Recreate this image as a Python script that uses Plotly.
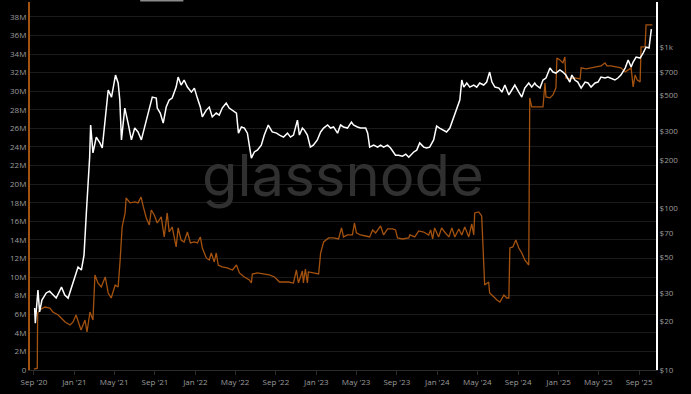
import numpy as np
import pandas as pd
import plotly.graph_objects as go

START = pd.Timestamp("2020-09-01")

# Price (right, log axis) - day offsets from 2020-09-01 and USD values
white_day = [2,4,12,17,24,37,47,57,67,83,
             93,103,113,123,133,143,151,158,163,168,
             171,178,188,199,206,214,224,234,246,254,
             259,264,274,284,294,304,314,324,335,345,
             357,369,372,381,390,399,408,417,429,435,
             444,453,463,475,484,493,502,508,520,529,
             538,550,559,568,580,589,599,611,617,626,
             635,644,656,665,674,686,695,707,719,732,
             741,753,765,774,783,789,795,801,810,816,
             825,834,843,855,865,874,886,895,904,916,
             925,934,946,958,964,976,985,1001,1007,1013,
             1025,1037,1046,1055,1067,1076,1085,1091,1100,1112,
             1122,1131,1146,1155,1164,1176,1185,1194,1206,1215,
             1224,1236,1245,1255,1267,1276,1285,1291,1297,1306,
             1315,1327,1336,1345,1357,1366,1375,1382,1391,1403,
             1412,1421,1433,1442,1451,1463,1472,1481,1493,1502,
             1511,1515,1527,1536,1545,1557,1566,1575,1587,1596,
             1605,1617,1623,1632,1641,1651,1663,1672,1681,1693,
             1702,1711,1723,1732,1741,1753,1762,1771,1784,1793,
             1802,1808,1817,1829,1838,1847,1856,1859,1863]
white_price = [24.2,19.5,31.3,22.9,27.1,30.0,30.8,29.1,27.9,32.6,
               29.1,27.9,32.6,37.7,43.4,41.6,51.5,93.8,134,208,
               329,221,277,255,237,353,542,490,671,599,
               470,266,419,338,266,315,298,266,329,390,
               490,483,419,390,338,425,470,483,565,652,
               582,625,565,526,557,483,425,369,407,425,
               369,390,379,419,450,419,407,390,293,320,
               315,293,205,224,230,247,285,329,298,293,
               285,277,293,277,285,315,353,285,315,306,
               285,240,247,266,298,315,329,315,320,293,
               329,320,315,343,329,320,315,315,293,240,
               247,240,247,240,247,237,221,214,214,211,
               217,208,224,230,255,240,237,240,266,324,
               315,306,298,315,369,407,470,625,565,599,
               565,582,565,599,582,607,700,607,565,557,
               526,582,505,542,582,526,490,557,599,565,
               599,582,557,625,643,741,700,690,721,700,
               671,607,671,625,607,557,607,599,565,599,
               607,652,643,652,643,625,643,671,741,831,
               752,807,867,855,918,1000,986,1153,1292]

# Metric (left axis, millions) - day offsets and values
orange_day = [0,10,11,17,33,48,57,73,82,94,
              109,118,127,136,142,154,160,169,178,184,
              193,203,215,224,233,245,254,260,266,275,
              278,290,305,314,323,330,339,348,354,363,
              372,384,393,402,408,417,429,435,444,453,
              463,472,484,493,502,508,520,529,535,544,
              550,556,568,583,599,611,620,635,650,656,
              659,674,695,710,726,741,753,768,783,792,
              798,810,813,819,825,828,843,859,865,874,
              889,904,919,928,934,946,961,967,973,985,
              1001,1013,1022,1031,1046,1055,1067,1082,1091,1097,
              1112,1131,1134,1149,1161,1176,1191,1197,1203,1209,
              1221,1230,1239,1252,1261,1270,1282,1291,1300,1312,
              1321,1327,1330,1342,1351,1357,1360,1372,1375,1388,
              1397,1406,1418,1427,1433,1436,1445,1454,1463,1472,
              1481,1493,1496,1502,1527,1536,1542,1545,1557,1566,
              1575,1578,1587,1596,1602,1605,1617,1632,1648,1651,
              1666,1681,1696,1711,1723,1729,1741,1756,1771,1784,
              1793,1802,1808,1814,1820,1829,1832,1844,1847,1866]
orange_m = [0.1,0.2,6.1,6.46,6.78,6.67,6.24,5.92,5.60,5.17,
            4.84,5.17,5.92,4.84,4.31,5.38,4.09,6.24,5.38,10.23,
            9.36,8.93,10.01,8.29,7.75,9.15,8.93,11.84,15.39,16.90,
            18.51,17.98,18.08,17.98,18.62,17.55,16.36,15.61,17.22,16.68,
            15.82,16.47,14.32,16.90,14.85,15.39,13.24,15.29,13.99,13.78,
            14.85,13.67,13.78,13.67,14.32,13.13,12.06,11.84,12.59,11.63,
            12.59,11.30,11.09,10.98,10.76,11.30,10.44,10.01,9.69,9.36,
            10.33,10.44,10.33,10.23,10.01,9.47,9.47,9.47,9.36,10.76,
            9.36,10.66,9.36,10.87,9.36,10.55,10.44,10.33,12.59,13.78,
            14.21,14.21,14.10,15.29,14.32,14.53,14.53,15.82,14.75,14.53,
            14.42,14.32,15.07,14.75,15.50,14.53,15.18,15.18,15.07,14.21,
            14.10,14.21,14.53,14.32,14.96,14.85,14.53,15.07,14.10,15.29,
            14.32,15.29,14.85,14.32,15.29,14.32,15.18,14.53,15.39,14.32,
            15.72,14.53,16.90,17.01,16.58,10.44,9.15,9.47,8.29,7.86,
            7.53,7.32,8.07,7.75,7.75,13.13,13.24,13.99,13.13,12.59,
            11.84,11.30,29.28,28.31,28.31,28.31,30.89,29.39,29.28,29.60,
            30.36,33.58,33.37,33.05,33.69,31.43,31.32,31.43,31.32,32.51,
            32.40,32.51,32.62,32.72,33.05,32.72,32.72,32.62,32.51,32.08,
            32.29,32.51,30.46,31.75,31.22,31.00,34.77,34.77,37.14,37.14]

price_ticks = [10, 20, 30, 50, 70, 100, 200, 300, 500, 700, 1000]
price_tick_text = ["$10", "$20", "$30", "$50", "$70", "$100", "$200", "$300", "$500", "$700", "$1k"]

ORANGE = "#a4520f"
TICK_COLOR = "#9c9c9c"
FONT = "Open Sans"

white_dates = START + pd.to_timedelta(white_day, unit="D")
orange_dates = START + pd.to_timedelta(orange_day, unit="D")
orange_vals = np.array(orange_m) * 1e6

fig = go.Figure()
fig.add_trace(go.Scatter(x=orange_dates, y=orange_vals, mode="lines", yaxis="y",
                         line=dict(color=ORANGE, width=1.3), showlegend=False))
fig.add_trace(go.Scatter(x=white_dates, y=white_price, mode="lines", yaxis="y2",
                         line=dict(color="#ffffff", width=1.5), showlegend=False))

fig.update_layout(
    width=691, height=394,
    margin=dict(l=30, r=35, t=2, b=24),
    paper_bgcolor="#000000", plot_bgcolor="#000000",
    font=dict(family=FONT, size=8, color=TICK_COLOR),
    xaxis=dict(
        range=["2020-08-20", "2025-10-22"],
        tick0="2020-09-01", dtick="M4", tickformat="%b '%y",
        showgrid=False, zeroline=False,
        showline=True, linecolor="#2b2b2b", linewidth=1,
        ticks="outside", ticklen=4, tickcolor="#2b2b2b",
        tickfont=dict(size=8, color=TICK_COLOR, family=FONT),
    ),
    yaxis=dict(
        range=[0, 39.6e6], dtick=2e6, tickformat="~s",
        showgrid=True, gridcolor="#1b1b1b", gridwidth=1,
        zeroline=False,
        showline=True, linecolor=ORANGE, linewidth=2,
        ticks="", tickfont=dict(size=8, color=TICK_COLOR, family=FONT),
    ),
    yaxis2=dict(
        overlaying="y", side="right", type="log",
        range=[1, 3.279],
        tickvals=price_ticks, ticktext=price_tick_text,
        showgrid=False, zeroline=False,
        showline=True, linecolor="#ffffff", linewidth=2,
        ticks="", tickfont=dict(size=8, color=TICK_COLOR, family=FONT),
    ),
    annotations=[dict(
        text="glassnode", xref="paper", yref="paper", x=0.5, y=0.53,
        showarrow=False, font=dict(family="Inter", size=58, color="#303030"),
    )],
    shapes=[dict(type="line", xref="paper", yref="paper",
                 x0=0.176, x1=0.245, y0=1.004, y1=1.004,
                 line=dict(color="#8a8a8a", width=2))],
)

fig.write_html("out.html")
